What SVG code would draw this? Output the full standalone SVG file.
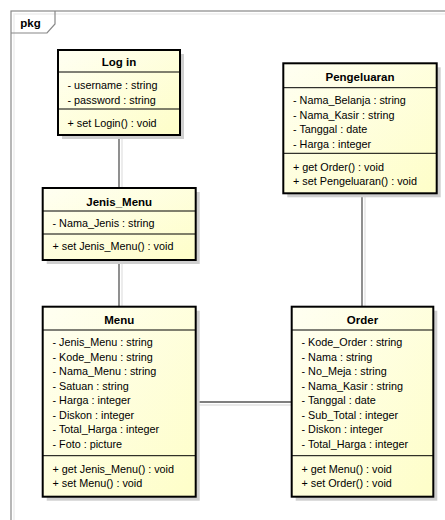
<svg xmlns="http://www.w3.org/2000/svg" width="445" height="520" viewBox="0 0 445 520">
<defs>
<linearGradient id="fill" x1="0" y1="0" x2="1" y2="1">
<stop offset="0" stop-color="#FFFFF2"/>
<stop offset="1" stop-color="#FEFEC8"/>
</linearGradient>
<style>
.box{fill:url(#fill);stroke:#000;stroke-width:2}
.sh{fill:#cfcfcf}
.sep{stroke:#000;stroke-width:1}
.t{font-family:"Liberation Sans",Arial,sans-serif;font-size:10.8px;fill:#000}
.b{font-family:"Liberation Sans",Arial,sans-serif;font-size:11.5px;font-weight:bold;fill:#000;text-anchor:middle}
.c{stroke:#555;stroke-width:1.3;fill:none}
.cs{stroke:#e2e2e2;stroke-width:1.3;fill:none}
.fr{stroke:#888;stroke-width:1.2;fill:none}
.frs{stroke:#eeeeee;stroke-width:1.5;fill:none}
</style>
</defs>
<rect width="445" height="520" fill="#fff"/>
<g id="frame">
<path class="frs" d="M14,530 V14 H450"/>
<rect class="fr" x="11" y="11" width="450" height="520" fill="#fff"/>
<path class="fr" d="M11,33 H47 L55,24 V11"/>
<text class="b" x="30.5" y="27">pkg</text>
</g>
<g id="connectors">
<path class="cs" d="M122,137 V188 M122,262 V306 M197,405 H292 M365,195 V306"/>
<path class="c" d="M119,135 V188 M119,260 V306.7 M195.7,402 H291.7 M362,193.3 V306.7"/>
</g>
<g id="login">
<rect class="sh" x="62" y="54" width="122" height="85"/>
<rect class="box" x="58" y="50" width="122" height="85"/>
<line class="sep" x1="58" y1="72" x2="180" y2="72"/>
<line class="sep" x1="58" y1="109" x2="180" y2="109"/>
<text class="b" x="119" y="66">Log in</text>
<text class="t" x="67.5" y="89">- username : string</text>
<text class="t" x="67.5" y="103.5">- password : string</text>
<text class="t" x="67.5" y="127">+ set Login() : void</text>
</g>
<g id="jenis_menu">
<rect class="sh" x="46.7" y="192" width="153" height="72"/>
<rect class="box" x="42.7" y="188" width="153" height="72"/>
<line class="sep" x1="42.7" y1="211" x2="195.7" y2="211"/>
<line class="sep" x1="42.7" y1="234" x2="195.7" y2="234"/>
<text class="b" x="119.2" y="205.5">Jenis_Menu</text>
<text class="t" x="52.5" y="227">- Nama_Jenis : string</text>
<text class="t" x="52.5" y="249.5">+ set Jenis_Menu() : void</text>
</g>
<g id="menu">
<rect class="sh" x="46.7" y="310.7" width="153" height="190"/>
<rect class="box" x="42.7" y="306.7" width="153" height="190"/>
<line class="sep" x1="42.7" y1="330" x2="195.7" y2="330"/>
<line class="sep" x1="42.7" y1="455.7" x2="195.7" y2="455.7"/>
<text class="b" x="119.2" y="324">Menu</text>
<text class="t" x="52.5" y="346.3">- Jenis_Menu : string</text>
<text class="t" x="52.5" y="360.8">- Kode_Menu : string</text>
<text class="t" x="52.5" y="375.3">- Nama_Menu : string</text>
<text class="t" x="52.5" y="389.8">- Satuan : string</text>
<text class="t" x="52.5" y="404.3">- Harga : integer</text>
<text class="t" x="52.5" y="418.8">- Diskon : integer</text>
<text class="t" x="52.5" y="433.3">- Total_Harga : integer</text>
<text class="t" x="52.5" y="447.8">- Foto : picture</text>
<text class="t" x="52.5" y="473">+ get Jenis_Menu() : void</text>
<text class="t" x="52.5" y="487.3">+ set Menu() : void</text>
</g>
<g id="order">
<rect class="sh" x="295.7" y="310.7" width="141.6" height="190"/>
<rect class="box" x="291.7" y="306.7" width="141.6" height="190"/>
<line class="sep" x1="291.7" y1="330" x2="433.3" y2="330"/>
<line class="sep" x1="291.7" y1="455.7" x2="433.3" y2="455.7"/>
<text class="b" x="362.5" y="324">Order</text>
<text class="t" x="301.5" y="346.3">- Kode_Order : string</text>
<text class="t" x="301.5" y="360.8">- Nama : string</text>
<text class="t" x="301.5" y="375.3">- No_Meja : string</text>
<text class="t" x="301.5" y="389.8">- Nama_Kasir : string</text>
<text class="t" x="301.5" y="404.3">- Tanggal : date</text>
<text class="t" x="301.5" y="418.8">- Sub_Total : integer</text>
<text class="t" x="301.5" y="433.3">- Diskon : integer</text>
<text class="t" x="301.5" y="447.8">- Total_Harga : integer</text>
<text class="t" x="301.5" y="473">+ get Menu() : void</text>
<text class="t" x="301.5" y="487.3">+ set Order() : void</text>
</g>
<g id="pengeluaran">
<rect class="sh" x="287.3" y="67.3" width="153.4" height="130"/>
<rect class="box" x="283.3" y="63.3" width="153.4" height="130"/>
<line class="sep" x1="283.3" y1="87.7" x2="436.7" y2="87.7"/>
<line class="sep" x1="283.3" y1="153.3" x2="436.7" y2="153.3"/>
<text class="b" x="360" y="81.3">Pengeluaran</text>
<text class="t" x="293" y="104">- Nama_Belanja : string</text>
<text class="t" x="293" y="118.5">- Nama_Kasir : string</text>
<text class="t" x="293" y="133">- Tanggal : date</text>
<text class="t" x="293" y="147.5">- Harga : integer</text>
<text class="t" x="293" y="171.3">+ get Order() : void</text>
<text class="t" x="293" y="184.7">+ set Pengeluaran() : void</text>
</g>
</svg>
